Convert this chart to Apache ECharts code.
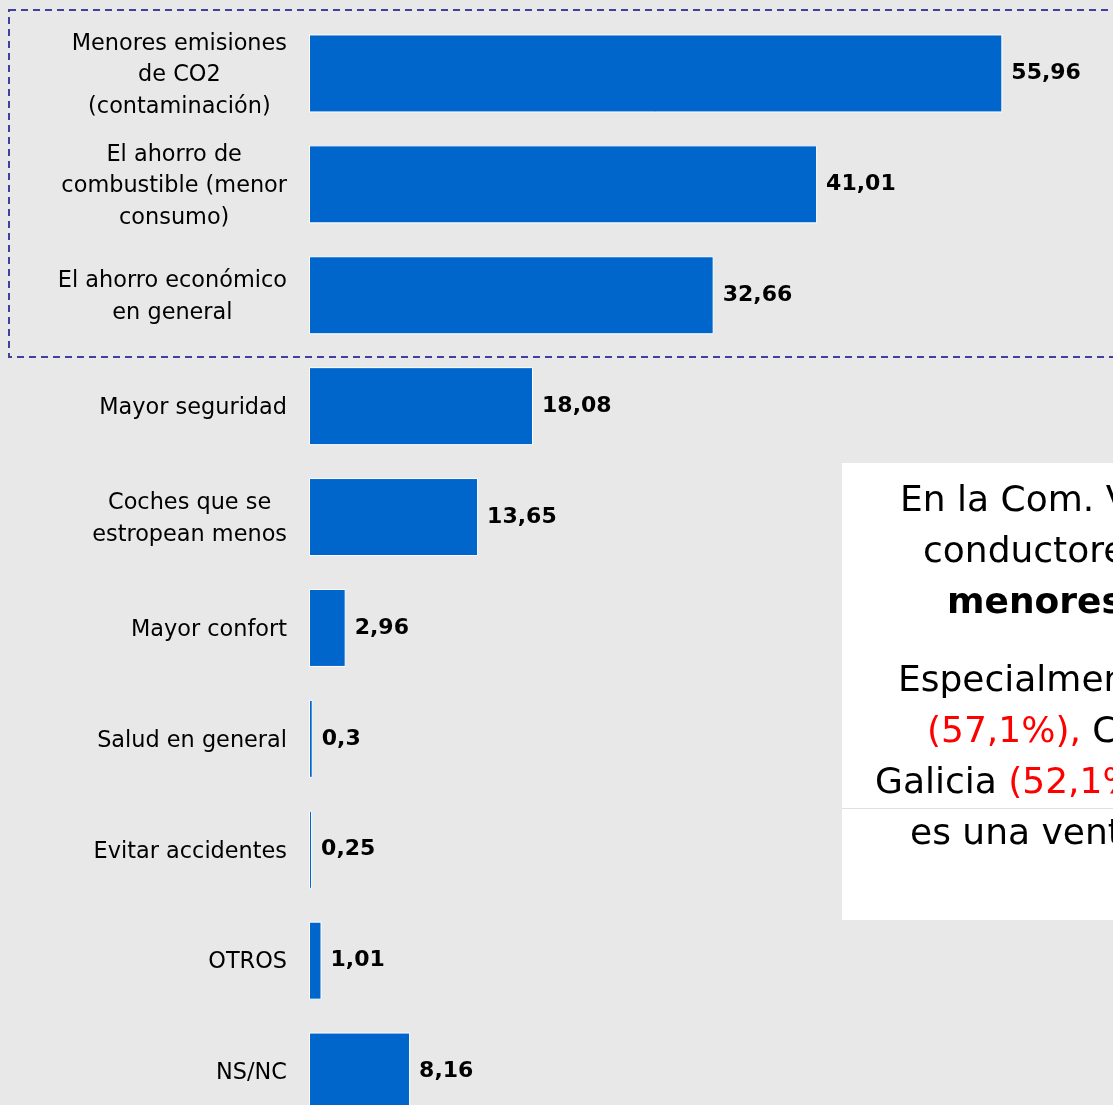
<!DOCTYPE html>
<html>
<head>
<meta charset="utf-8">
<script src="https://cdn.jsdelivr.net/npm/echarts@6/dist/echarts.min.js"></script>
<style>
  html, body { margin: 0; padding: 0; background: #e8e8e8; overflow: hidden; width: 1113px; height: 1105px; }
  /* el grafico original esta recortado por la derecha y por abajo */
  #main { width: 1300px; height: 1140px; }
</style>
</head>
<body>
<div id="main"></div>
<script>
// categorias y valores (%)
var categories = [
  'Menores emisiones\nde CO2\n(contaminación)',
  'El ahorro de\ncombustible (menor\nconsumo)',
  'El ahorro económico\nen general',
  'Mayor seguridad',
  'Coches que se\nestropean menos',
  'Mayor confort',
  'Salud en general',
  'Evitar accidentes',
  'OTROS',
  'NS/NC'
];
var values = [55.96, 41.01, 32.66, 18.08, 13.65, 2.96, 0.3, 0.25, 1.01, 8.16];

var FONT = '"DejaVu Sans", Verdana, sans-serif';
var pxPerUnit = 12.39;
var xMax = 70;

var chart = echarts.init(document.getElementById('main'));

// lineas de texto del recuadro blanco (cortado por el borde derecho)
var noteLines = [
  { x: 900, y: 502, text: 'En la Com. Valenciana los' },
  { x: 923, y: 553, text: 'conductores valoran' },
  { x: 947, y: 604, text: '{b|menores emisiones}' },
  { x: 898, y: 682, text: 'Especialmente en' },
  { x: 927, y: 733, text: '{r|(57,1%),} Cataluña' },
  { x: 875, y: 784, text: 'Galicia {r|(52,1%)}' },
  { x: 910, y: 835, text: 'es una ventaja' }
];

var noteTexts = noteLines.map(function (l) {
  return {
    type: 'text',
    x: l.x,
    y: l.y,
    z: 20,
    style: {
      text: l.text,
      font: '36px ' + FONT,
      fill: '#000',
      verticalAlign: 'middle',
      rich: {
        b: { fontWeight: 'bold', fontSize: 36, fontFamily: FONT, fill: '#000' },
        r: { fill: '#ff0000', fontSize: 36, fontFamily: FONT }
      }
    }
  };
});

chart.setOption({
  backgroundColor: '#e8e8e8',
  animation: false,
  grid: {
    left: 309,
    top: 18,
    width: pxPerUnit * xMax,
    height: 1109,
    containLabel: false
  },
  xAxis: {
    type: 'value',
    min: 0,
    max: xMax,
    show: false
  },
  yAxis: {
    type: 'category',
    inverse: true,
    data: categories,
    axisLine: { show: false },
    axisTick: { show: false },
    splitLine: { show: false },
    axisLabel: {
      margin: 22,
      fontSize: 22,
      fontFamily: FONT,
      color: '#000',
      lineHeight: 31.5,
      padding: [4, 0, 0, 0],
      formatter: function (v) {
        return v.split('\n').map(function (s) { return '{c|' + s + '}'; }).join('\n');
      },
      rich: {
        c: { align: 'center', fontSize: 22.4, fontFamily: FONT, color: '#000', lineHeight: 31.5 }
      }
    }
  },
  series: [{
    type: 'bar',
    data: values,
    barWidth: 78,
    itemStyle: { color: '#0066cc', borderColor: '#ffffff', borderWidth: 1 },
    label: {
      show: true,
      position: 'right',
      distance: 9,
      fontSize: 22,
      fontWeight: 'bold',
      fontFamily: FONT,
      color: '#000',
      formatter: function (p) { return String(p.value).replace('.', ','); }
    }
  }],
  graphic: [
    {
      type: 'rect',
      z: 10,
      shape: { x: 9, y: 10, width: 1250, height: 347 },
      style: { fill: 'none', stroke: '#40409e', lineWidth: 2, lineDash: [7, 5] }
    },
    {
      type: 'rect',
      z: 15,
      shape: { x: 842, y: 463, width: 450, height: 457 },
      style: { fill: '#ffffff' }
    },
    {
      type: 'rect',
      z: 16,
      shape: { x: 842, y: 808, width: 450, height: 1 },
      style: { fill: '#e0e0e0' }
    }
  ].concat(noteTexts)
});
</script>
</body>
</html>
